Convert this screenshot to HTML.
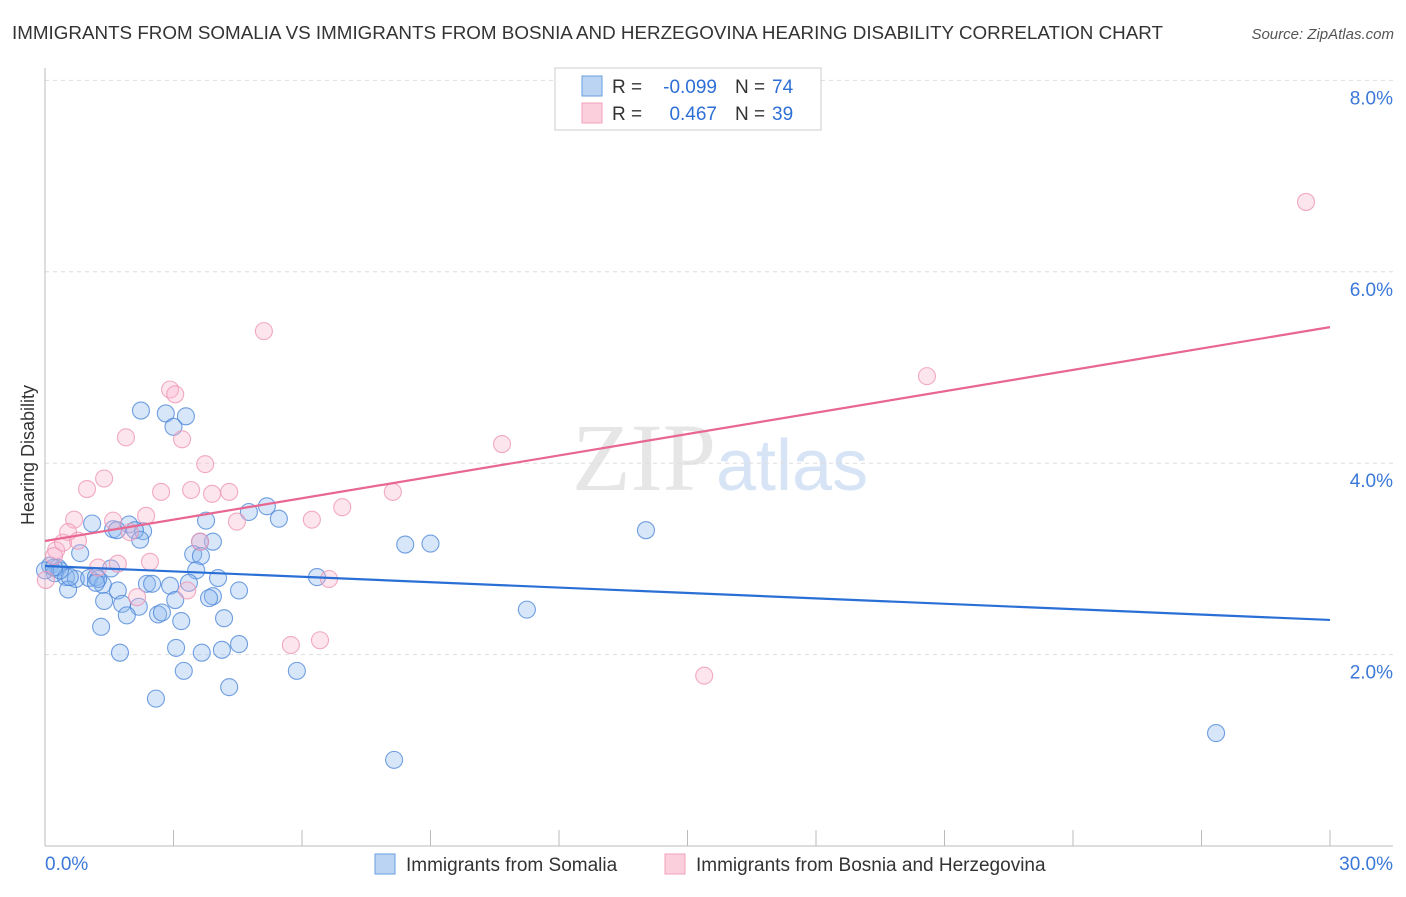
<!DOCTYPE html>
<html><head><meta charset="utf-8"><style>
body{margin:0;background:#fff;font-family:"Liberation Sans",sans-serif;}
</style></head><body>
<svg width="1406" height="892" xmlns="http://www.w3.org/2000/svg" font-family="Liberation Sans, sans-serif">
<text x="12" y="39" font-size="18" fill="#333" textLength="1151" lengthAdjust="spacingAndGlyphs">IMMIGRANTS FROM SOMALIA VS IMMIGRANTS FROM BOSNIA AND HERZEGOVINA HEARING DISABILITY CORRELATION CHART</text>
<text x="1394" y="39" font-size="15" fill="#555" font-style="italic" text-anchor="end">Source: ZipAtlas.com</text>
<text x="716" y="490" font-size="96" fill="#e6e6e6" text-anchor="end" font-family="Liberation Serif, serif">ZIP</text>
<text x="716" y="490" font-size="72" fill="#d6e4f5">atlas</text>
<g id="grid"></g>
<g id="axes"></g>
<g id="pts"></g>
<g id="lines"></g>
<text transform="translate(34,455) rotate(-90)" font-size="18" fill="#333" text-anchor="middle">Hearing Disability</text>
<g>
<rect x="555" y="68" width="266" height="62" fill="#fff" stroke="#ccc"/>
<rect x="582" y="76" width="20" height="20" fill="#bcd4f3" stroke="#6a9ee0"/>
<rect x="582" y="103" width="20" height="20" fill="#fbd0dc" stroke="#f0a0b8"/>
<text x="612" y="93" font-size="19" fill="#333">R =</text>
<text x="717" y="93" font-size="19" fill="#2e6fd6" text-anchor="end">-0.099</text>
<text x="735" y="93" font-size="19" fill="#333">N =</text>
<text x="772" y="93" font-size="19" fill="#2e6fd6">74</text>
<text x="612" y="120" font-size="19" fill="#333">R =</text>
<text x="717" y="120" font-size="19" fill="#2e6fd6" text-anchor="end">0.467</text>
<text x="735" y="120" font-size="19" fill="#333">N =</text>
<text x="772" y="120" font-size="19" fill="#2e6fd6">39</text>
</g>
<g>
<rect x="375" y="854" width="20" height="20" fill="#bcd4f3" stroke="#6a9ee0"/>
<text x="406" y="871" font-size="19" fill="#333">Immigrants from Somalia</text>
<rect x="665" y="854" width="20" height="20" fill="#fbd0dc" stroke="#f0a0b8"/>
<text x="696" y="871" font-size="19" fill="#333">Immigrants from Bosnia and Herzegovina</text>
</g>
</svg>
<script>
const blueX=[2.24,2.82,3.29,3.0,9.81,10.5,5.18,4.76,3.76,5.46,1.1,1.59,1.96,2.29,2.1,14.03,8.41,9.0,3.92,3.62,0.82,3.46,3.64,0.12,0.3,0.23,0.49,0.72,1.03,1.19,1.54,3.53,4.04,6.35,2.38,2.5,3.36,2.92,0.54,1.7,4.53,1.38,1.8,2.19,3.04,3.92,1.91,2.64,3.18,4.18,11.25,1.31,1.75,3.06,3.66,4.13,4.53,3.24,5.88,2.59,4.3,8.15,27.34,2.73,1.35,0.58,1.24,0.35,0.0,1.68,2.22,0.21,1.19,3.83];
const blueY=[4.55,4.52,4.49,4.38,8.98,9.05,3.55,3.49,3.4,3.42,3.37,3.31,3.36,3.29,3.3,3.3,3.15,3.16,3.18,3.18,3.06,3.05,3.03,2.93,2.91,2.85,2.81,2.79,2.8,2.81,2.9,2.88,2.8,2.81,2.74,2.74,2.75,2.72,2.68,2.67,2.67,2.56,2.53,2.5,2.57,2.61,2.41,2.42,2.35,2.38,2.47,2.29,2.02,2.07,2.02,2.05,2.11,1.83,1.83,1.54,1.66,0.9,1.18,2.44,2.73,2.81,2.79,2.88,2.88,3.3,3.2,2.91,2.75,2.59];
const pinkX=[29.44,5.11,2.92,3.04,3.2,1.89,3.74,10.67,20.59,1.38,0.98,2.71,3.41,3.9,4.3,8.12,6.94,4.48,6.23,0.68,1.59,2.36,0.54,1.98,0.26,0.77,0.42,0.21,1.7,2.45,1.24,3.62,6.63,2.15,3.32,5.74,6.42,15.39,0.02];
const pinkY=[6.73,5.38,4.77,4.72,4.25,4.27,3.99,4.2,4.91,3.84,3.73,3.7,3.72,3.68,3.7,3.7,3.54,3.39,3.41,3.41,3.4,3.45,3.28,3.28,3.09,3.19,3.17,3.03,2.95,2.97,2.91,3.18,2.79,2.6,2.67,2.1,2.15,1.78,2.78];
const lineIntercept=[2.926,3.187];
const lineSlope=[-0.0188,0.0745];
const sx=v=>45+v*1285/30, sy=v=>846-v*95.7;
const NS='http://www.w3.org/2000/svg';
function mk(t,a,p){const e=document.createElementNS(NS,t);for(const k in a)e.setAttribute(k,a[k]);p.appendChild(e);return e;}
const grid=document.getElementById('grid'),axes=document.getElementById('axes'),pts=document.getElementById('pts'),lines=document.getElementById('lines');
const yTicks=[2,4,6,8],yLabels=['2.0%','4.0%','6.0%','8.0%'];
yTicks.forEach((t,i)=>{
 const l=mk('line',{x1:45,x2:1393,y1:sy(t),y2:sy(t),stroke:'#ddd','stroke-dasharray':'4,4'},grid);
 
 
 const tx=mk('text',{x:1393,y:sy(t)+24,'font-size':19,fill:'#3b78d8','text-anchor':'end'},grid);tx.textContent=yLabels[i];
 
 
});
mk('line',{x1:45,x2:45,y1:68,y2:846,stroke:'#bbb'},axes);
mk('line',{x1:45,x2:1393,y1:846,y2:846,stroke:'#bbb'},axes);
for(let i=0;i<=10;i++){const x=sx(i*3);mk('line',{x1:x,x2:x,y1:830,y2:846,stroke:'#bbb'},axes);}
const xl=mk('text',{x:45,y:870,'font-size':19,fill:'#3b78d8'},axes);xl.textContent='0.0%';


const xr=mk('text',{x:1393,y:870,'font-size':19,fill:'#3b78d8','text-anchor':'end'},axes);xr.textContent='30.0%';


blueX.forEach((x,i)=>{const c=mk('circle',{cx:sx(x),cy:sy(blueY[i]),r:8.5,fill:'rgba(140,182,238,0.35)',stroke:'rgba(70,130,215,0.75)','stroke-width':1.1},pts);
 
 });
pinkX.forEach((x,i)=>{const c=mk('circle',{cx:sx(x),cy:sy(pinkY[i]),r:8.5,fill:'rgba(248,180,205,0.35)',stroke:'rgba(238,150,180,0.8)','stroke-width':1.1},pts);
 
 });
const cols=['#2a6fd6','#e8668f'],names=['somalia-trendline','bosnia-trendline'];
lineIntercept.forEach((b,i)=>{const l=mk('line',{x1:sx(0),y1:sy(b),x2:sx(30),y2:sy(b+lineSlope[i]*30),stroke:cols[i],'stroke-width':2.2},lines);
 
 });
</script>
</body></html>
